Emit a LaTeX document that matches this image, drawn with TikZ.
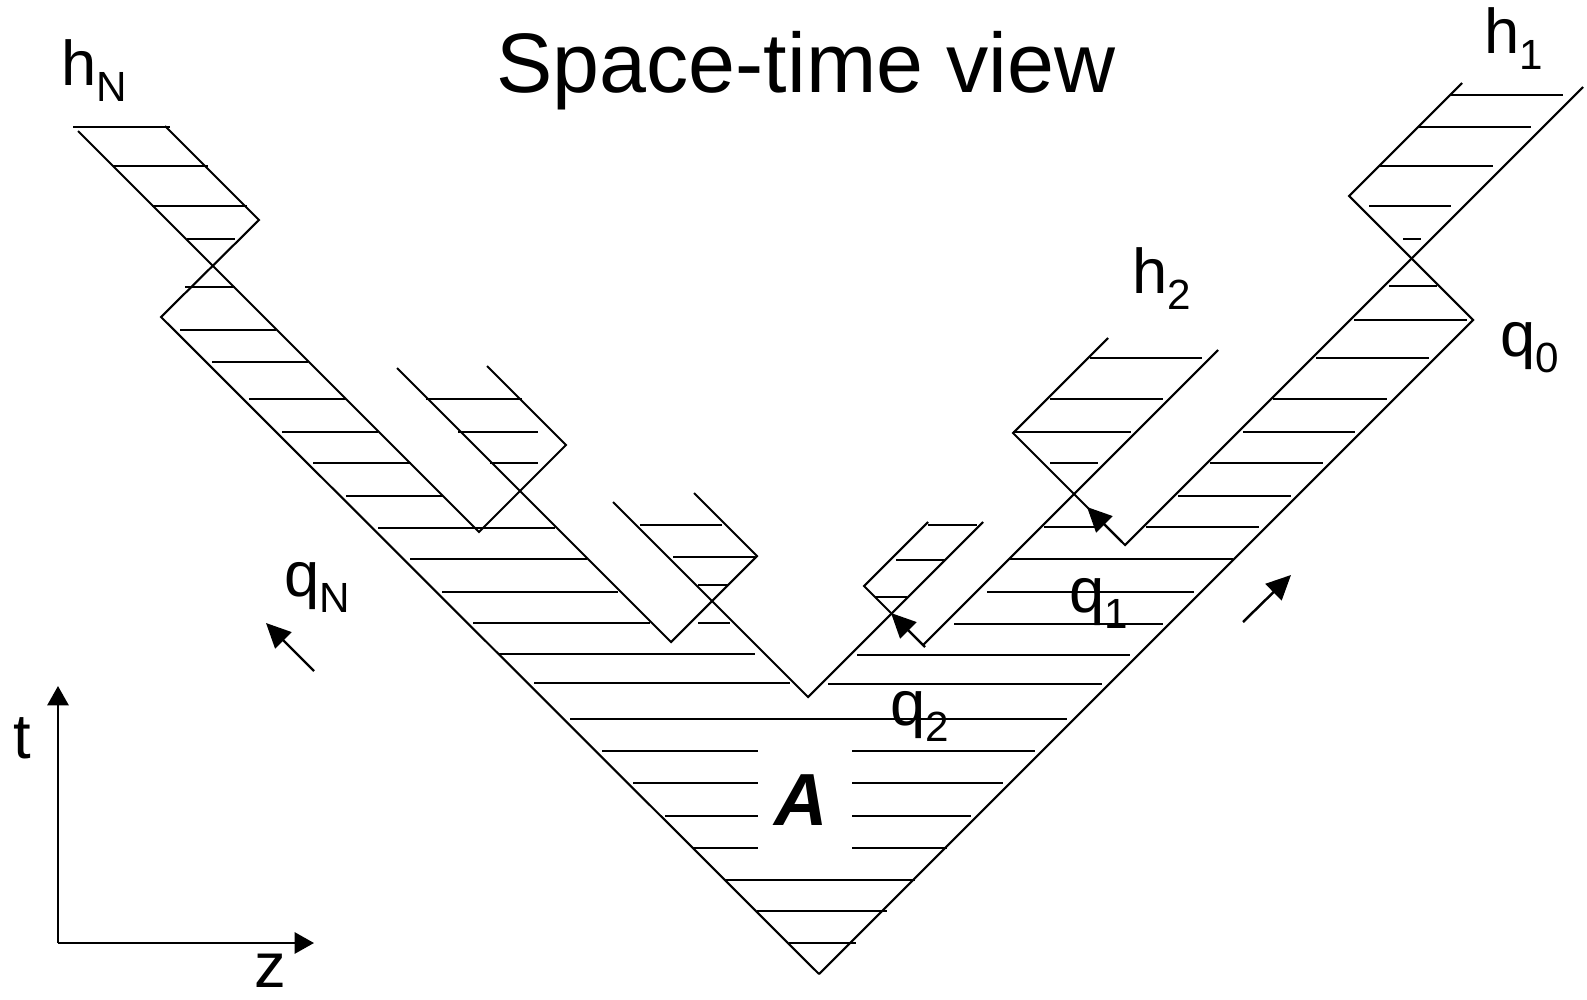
\documentclass[tikz,border=0pt]{standalone}
\usepackage{fontspec}
\setmainfont{Liberation Sans}
\usetikzlibrary{arrows.meta}
\newcommand{\mylab}[2]{#1\raisebox{-4.8pt}{\fontsize{12}{12}\selectfont #2}}
\begin{document}
\begin{tikzpicture}[x=0.01cm,y=-0.01cm,
  bd/.style={line width=0.6pt,line join=miter},
  hatch/.style={line width=0.7pt},
  qarrow/.style={line width=0.7pt,-{Triangle[length=7pt,width=6.5pt]}},
  axis/.style={line width=0.7pt,-{Triangle[length=5.5pt,width=6pt]}},
  lbl/.style={inner sep=0pt,anchor=base west,font=\fontsize{18}{20}\selectfont}]
\useasboundingbox (0,0) rectangle (1587,1000);
% boundaries, left side
\draw[bd] (819,974) -- (161,317) -- (259,220) -- (165,126);
\draw[bd] (78,131) -- (479,532) -- (566,445) -- (487,366);
\draw[bd] (397,368) -- (671,642) -- (757,556) -- (694,493);
\draw[bd] (613,502) -- (808,697) -- (983,522);
% boundaries, right side
\draw[bd] (928,522) -- (864,586) -- (923,645) -- (1218,350);
\draw[bd] (1108,338) -- (1013,433) -- (1125,545) -- (1583,87);
\draw[bd] (1462,83) -- (1349,196) -- (1473,320) -- (819,974);
% hatching
\foreach \y/\a/\b in {
  95/1450/1563,
  127/73/170, 127/1418/1531,
  166/113/208, 166/1379/1493,
  206/152/247, 206/1369/1451,
  239/187/235, 239/1403/1421,
  287/185/235, 286/1389/1437,
  330/180/276, 320/1354/1467,
  362/212/308, 358/1090/1202, 358/1316/1429,
  399/249/346, 399/426/522, 399/1050/1163, 399/1273/1387,
  432/282/378, 432/458/538, 432/1013/1131, 432/1243/1355,
  463/313/411, 463/490/538, 463/1050/1098, 463/1210/1323,
  496/346/443, 496/1178/1291,
  528/378/555, 527/1044/1099, 527/1146/1259,
  525/640/722, 525/928/977,
  559/410/587, 557/673/755, 560/896/946, 559/1010/1233,
  592/442/618, 592/987/1194,
  585/698/729, 597/875/907,
  623/473/650, 623/698/730, 624/954/1163,
  654/498/755, 655/857/1130,
  683/534/790, 684/828/1102,
  719/570/1067,
  751/602/758, 751/852/1035,
  783/633/758, 783/852/1003,
  816/665/758, 816/852/971,
  848/693/758, 848/852/947,
  880/725/915,
  911/757/887,
  943/789/856}
  \draw[hatch] (\a,\y) -- (\b,\y);
% direction arrows
\coordinate (qNs) at (314,671); \coordinate (qNe) at (266,623);
\coordinate (q1s) at (1122,542); \coordinate (q1e) at (1087,507);
\coordinate (q2s) at (925,647); \coordinate (q2e) at (891,613);
\coordinate (q0s) at (1243,622); \coordinate (q0e) at (1291,575);
\draw[qarrow] (qNs) -- (qNe);
\draw[qarrow] (q1s) -- (q1e);
\draw[qarrow] (q2s) -- (q2e);
\draw[qarrow] (q0s) -- (q0e);
% axes
\coordinate (O) at (58,943);
\coordinate (T) at (58,686);
\coordinate (Z) at (314,943);
\draw[axis] (O) -- (T);
\draw[axis] (O) -- (Z);
% labels
\node[inner sep=0pt,anchor=base,font=\fontsize{24}{28}\selectfont] (title) at (806,93) {Space-time view};
\node[lbl] (hN) at (61,85) {\mylab{h}{N}};
\node[lbl] (h1) at (1484,53) {\mylab{h}{1}};
\node[lbl] (h2) at (1132,293) {\mylab{h}{2}};
\node[lbl] (q0) at (1500,356) {\mylab{q}{0}};
\node[lbl] (qN) at (284,596) {\mylab{q}{N}};
\node[lbl] (q1) at (1069,612) {\mylab{q}{1}};
\node[lbl] (q2) at (890,725) {\mylab{q}{2}};
\node[lbl] (t) at (13,758) {t};
\node[lbl] (z) at (254,987) {z};
\node[inner sep=0pt,anchor=base,font=\fontsize{21}{24}\selectfont\bfseries\itshape] (A) at (801,825) {A};
\end{tikzpicture}
\end{document}
